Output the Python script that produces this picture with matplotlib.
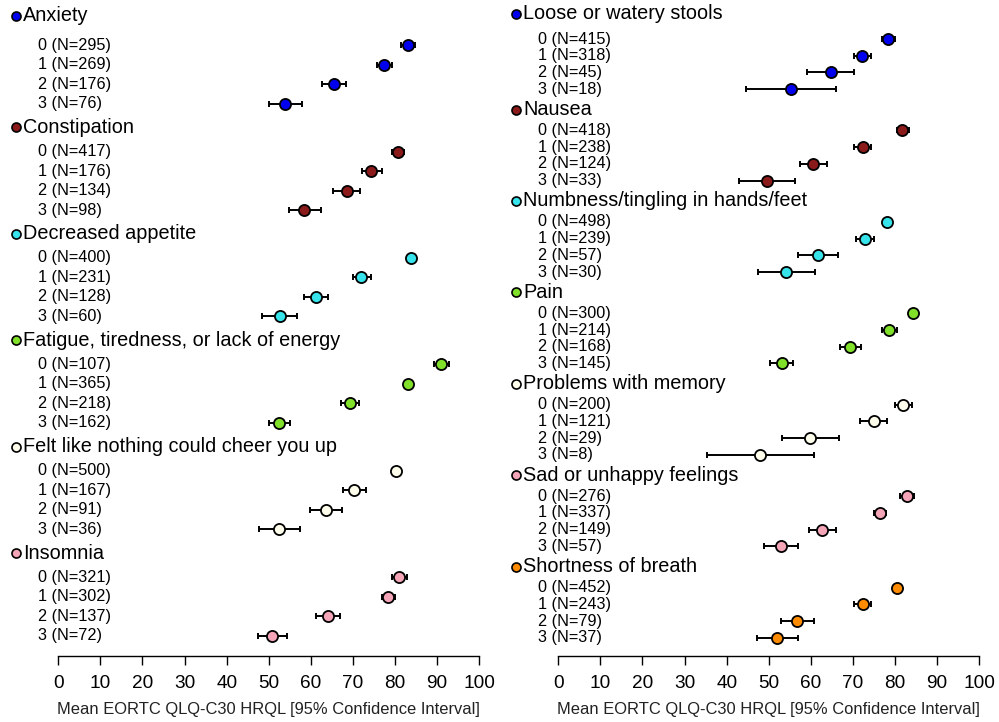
import numpy as np
import matplotlib
matplotlib.use("Agg")
import matplotlib.pyplot as plt

plt.rcParams["font.family"] = ["Liberation Sans", "DejaVu Sans"]

# =========================================
# Data
# =========================================

LEVELS = ["0", "1", "2", "3"]

left_symptoms = [
    "Anxiety",
    "Constipation",
    "Decreased appetite",
    "Fatigue, tiredness, or lack of energy",
    "Felt like nothing could cheer you up",
    "Insomnia",
]
left_colors = ["#0000EE", "#8B1A1A", "#38E4EC", "#80E02A", "#FFFDEB", "#F4A6B8"]
left_n = [
    [295, 269, 176, 76],
    [417, 176, 134, 98],
    [400, 231, 128, 60],
    [107, 365, 218, 162],
    [500, 167, 91, 36],
    [321, 302, 137, 72],
]
left_mean = [
    [83.1, 77.4, 65.5, 53.9],
    [80.6, 74.4, 68.5, 58.4],
    [83.8, 72.0, 61.3, 52.6],
    [90.9, 83.1, 69.2, 52.5],
    [80.3, 70.2, 63.5, 52.5],
    [80.9, 78.3, 64.1, 50.8],
]
left_lo = [
    [81.4, 75.6, 62.7, 50.0],
    [79.2, 72.1, 65.3, 54.7],
    [83.1, 69.9, 58.4, 48.4],
    [89.2, 82.5, 67.2, 50.1],
    [79.5, 67.6, 59.7, 47.7],
    [79.2, 76.8, 61.2, 47.4],
]
left_hi = [
    [84.8, 79.3, 68.3, 57.9],
    [82.2, 76.9, 71.6, 62.3],
    [84.5, 74.3, 64.1, 56.8],
    [92.7, 83.7, 71.4, 55.0],
    [81.2, 73.0, 67.5, 57.4],
    [82.8, 80.0, 67.0, 54.4],
]

right_symptoms = [
    "Loose or watery stools",
    "Nausea",
    "Numbness/tingling in hands/feet",
    "Pain",
    "Problems with memory",
    "Sad or unhappy feelings",
    "Shortness of breath",
]
right_colors = ["#0000EE", "#8B1A1A", "#38E4EC", "#80E02A", "#FFFDEB", "#F4A6B8", "#FF8C00"]
right_n = [
    [415, 318, 45, 18],
    [418, 238, 124, 33],
    [498, 239, 57, 30],
    [300, 214, 168, 145],
    [200, 121, 29, 8],
    [276, 337, 149, 57],
    [452, 243, 79, 37],
]
right_mean = [
    [78.4, 72.2, 64.7, 55.3],
    [81.7, 72.3, 60.6, 49.5],
    [78.1, 72.9, 61.8, 54.2],
    [84.3, 78.6, 69.3, 53.1],
    [82.0, 74.9, 59.9, 47.9],
    [82.8, 76.5, 62.6, 52.9],
    [80.5, 72.3, 56.7, 51.9],
]
right_lo = [
    [76.8, 70.2, 59.1, 44.7],
    [80.4, 70.2, 57.5, 43.0],
    [77.3, 70.7, 57.0, 47.4],
    [83.3, 76.9, 67.0, 50.3],
    [80.1, 71.7, 53.2, 35.3],
    [81.2, 75.1, 59.5, 48.9],
    [79.5, 70.2, 52.8, 47.1],
]
right_hi = [
    [80.1, 74.2, 70.3, 66.0],
    [83.2, 74.4, 63.8, 56.2],
    [79.0, 75.1, 66.5, 61.0],
    [85.3, 80.5, 71.8, 55.7],
    [84.1, 78.1, 66.7, 60.7],
    [84.6, 77.8, 65.9, 56.9],
    [81.6, 74.4, 60.7, 56.9],
]

GROUP_STEP = 5.46
HEADER_OFFSET = 1.25
XLIM = (-13.85, 102.55)


def draw_panel(ax, symptoms, colors, n, mean, lo, hi):
    """Forest-style panel: symptom header, then one CI row per level."""

    n_groups = len(symptoms)

    for g, name in enumerate(symptoms):
        base = g * GROUP_STEP
        rows = base + np.arange(len(LEVELS))
        m = np.array(mean[g])
        err = np.vstack([m - np.array(lo[g]), np.array(hi[g]) - m])

        ax.errorbar(
            m, rows, xerr=err, fmt="none",
            ecolor="black", elinewidth=1.4, capsize=2.2, capthick=1.4, zorder=2,
        )
        ax.plot(
            m, rows, "o", ms=8, mfc=colors[g], mec="black", mew=1.3,
            linestyle="none", zorder=3,
        )

        hy = base - (1.5 if g == 0 else HEADER_OFFSET)
        ax.plot(-10.0, hy, "o", ms=6.5, mfc=colors[g], mec="black", mew=1.2,
                clip_on=False, zorder=3)
        ax.text(-8.3, hy, name, fontsize=14.3, va="center", ha="left")

        for i, lev in enumerate(LEVELS):
            ax.text(-4.9, rows[i], f"{lev} (N={n[g][i]})", fontsize=11.7,
                    va="center", ha="left")

    last = (n_groups - 1) * GROUP_STEP + len(LEVELS) - 1
    return last


fig = plt.figure(figsize=(9.99, 7.22), dpi=100)

bottom = 1 - 656 / 722
height = 1 - bottom
ax_left = fig.add_axes([0.0, bottom, 490 / 999, height])
ax_right = fig.add_axes([500 / 999, bottom, 490 / 999, height])

panels = [
    (ax_left, left_symptoms, left_colors, left_n, left_mean, left_lo, left_hi, 2.31, 1.03),
    (ax_right, right_symptoms, right_colors, right_n, right_mean, right_lo, right_hi, 2.33, 1.09),
]

# centre of the 0..100 range in axes coordinates
label_x = (50 - XLIM[0]) / (XLIM[1] - XLIM[0])

for ax, syms, cols, n, m, lo, hi, top_pad, bot_pad in panels:
    last = draw_panel(ax, syms, cols, n, m, lo, hi)
    ax.set_ylim(last + bot_pad, -top_pad)
    ax.set_xlim(*XLIM)

    for side in ["left", "right", "top"]:
        ax.spines[side].set_visible(False)
    ax.spines["bottom"].set_bounds(0, 100)
    ax.spines["bottom"].set_linewidth(1.0)
    ax.set_yticks([])
    ax.set_xticks(np.arange(0, 101, 10))
    ax.tick_params(axis="x", direction="out", length=6.7, width=1.0,
                   labelsize=13.7, pad=7)
    ax.set_xlabel("Mean EORTC QLQ-C30 HRQL [95% Confidence Interval]",
                  fontsize=11.9, color="#222222")
    ax.xaxis.set_label_coords(label_x, -0.07)
    ax.patch.set_alpha(0)

fig.savefig("out.png", dpi=100)
